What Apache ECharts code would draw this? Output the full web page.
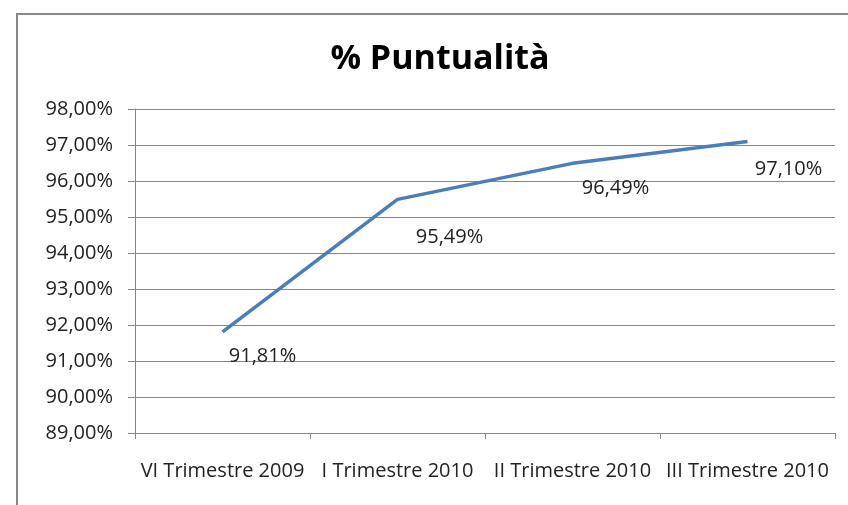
<!DOCTYPE html>
<html>
<head>
<meta charset="utf-8">
<script src="https://cdn.jsdelivr.net/npm/echarts@6/dist/echarts.min.js"></script>
<style>
  html, body { margin: 0; padding: 0; background: #fff; }
  #chart { width: 848px; height: 505px; }
</style>
</head>
<body>
<div id="chart"></div>
<script>
// dati trimestrali
const categories = ['VI Trimestre 2009', 'I Trimestre 2010', 'II Trimestre 2010', 'III Trimestre 2010']
const puntualita = [91.81, 95.49, 96.49, 97.10]
const labelOffsets = [[40, 14], [52, 28], [43, 15], [41, 18]]

const fmt = (v) => v.toFixed(2).replace('.', ',') + '%'
const font = 'Open Sans'

let myChart = echarts.init(document.getElementById('chart'))
let option = {
  animation: false,
  backgroundColor: '#fff',
  title: {
    text: '% Puntualità',
    left: 435,
    textAlign: 'center',
    top: 37,
    textStyle: { fontFamily: font, fontSize: 34, fontWeight: 'bold', color: '#000' },
  },
  graphic: [
    {
      type: 'rect',
      shape: { x: 17, y: 14, width: 860, height: 520 },
      style: { fill: 'none', stroke: '#888', lineWidth: 2 },
      z: 100,
    },
  ],
  grid: { left: 135, right: 13, top: 109, bottom: 72 },
  xAxis: {
    type: 'category',
    boundaryGap: true,
    data: categories,
    axisLine: { show: true, lineStyle: { color: '#868686' } },
    axisTick: { show: true, length: 6, lineStyle: { color: '#868686' } },
    axisLabel: { fontFamily: font, fontSize: 20, color: '#222', margin: 28, interval: 0 },
  },
  yAxis: {
    type: 'value',
    min: 89,
    max: 98,
    interval: 1,
    axisLine: { show: true, lineStyle: { color: '#868686' } },
    axisTick: { show: true, length: 7, lineStyle: { color: '#868686' } },
    splitLine: { lineStyle: { color: '#868686' } },
    axisLabel: { fontFamily: font, fontSize: 20, color: '#222', margin: 22, formatter: fmt },
  },
  series: [
    {
      type: 'line',
      symbol: 'circle',
      symbolSize: 0,
      showSymbol: true,
      itemStyle: { color: '#4a7ebb' },
      lineStyle: { color: '#4a7ebb', width: 3.5 },
      data: puntualita.map((v, i) => ({
        value: v,
        label: { offset: labelOffsets[i] },
      })),
      label: {
        show: true,
        position: 'bottom',
        distance: 0,
        fontFamily: font,
        fontSize: 20,
        color: '#222',
        formatter: (p) => fmt(p.value),
      },
    },
  ],
}
myChart.setOption(option)
</script>
</body>
</html>
